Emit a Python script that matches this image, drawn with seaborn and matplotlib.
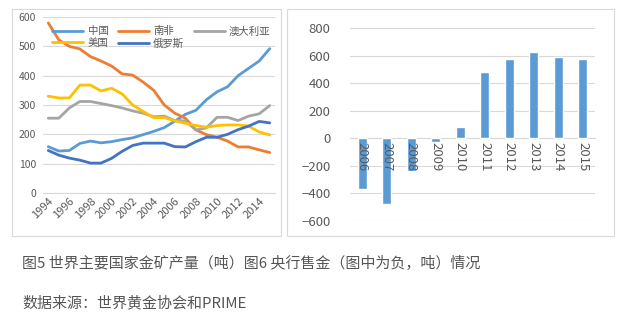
import matplotlib
matplotlib.use("Agg")
import matplotlib.pyplot as plt
from matplotlib.patches import Rectangle
import numpy as np
import pandas as pd
import seaborn as sns

sns.set_style("white")
plt.rcParams['font.family'] = ['Noto Sans CJK SC', 'DejaVu Sans']

years = list(range(1994, 2016))
china = [158, 143, 145, 169, 177, 171, 175, 182, 188, 199, 210, 223, 245, 268, 282, 318, 345, 362, 400, 425, 450, 492]
south_africa = [580, 522, 500, 491, 465, 450, 433, 406, 402, 378, 350, 300, 272, 255, 215, 199, 190, 177, 157, 157, 147, 138]
australia = [255, 255, 290, 312, 312, 305, 298, 290, 280, 272, 260, 262, 247, 246, 215, 222, 258, 258, 247, 262, 270, 298]
usa = [330, 324, 324, 368, 368, 348, 357, 338, 300, 278, 257, 257, 246, 238, 230, 224, 230, 232, 232, 228, 208, 198]
russia = [145, 129, 119, 112, 102, 102, 118, 142, 162, 170, 170, 170, 158, 157, 175, 190, 190, 200, 216, 228, 244, 239]
series_names = ['中国', '南非', '澳大利亚', '美国', '俄罗斯']
series_values = [china, south_africa, australia, usa, russia]
colors = ['#5B9BD5', '#ED7D31', '#A5A5A5', '#FFC000', '#4472C4']

bar_years = ['2006', '2007', '2008', '2009', '2010', '2011', '2012', '2013', '2014', '2015']
bar_values = [-365, -478, -235, -29, 80, 484, 572, 625, 589, 572]

caption1 = '图5 世界主要国家金矿产量（吨）图6 央行售金（图中为负，吨）情况'
caption2 = '数据来源：世界黄金协会和PRIME'

rows = []
for name, vals in zip(series_names, series_values):
    for y, v in zip(years, vals):
        rows.append({'year': y, 'value': v, 'country': name})
df = pd.DataFrame(rows)
dfb = pd.DataFrame({'year': bar_years, 'value': bar_values})

W, H = 620, 333
fig = plt.figure(figsize=(W / 100, H / 100), dpi=100)
fig.patch.set_facecolor('white')

def fx(px):
    return px / W

def fy(py):
    return 1 - py / H

# panel borders
fig.patches.append(Rectangle((fx(12), fy(236)), fx(281) - fx(12), fy(9) - fy(236),
                             transform=fig.transFigure, fill=False, edgecolor='#d9d9d9', lw=0.8))
fig.patches.append(Rectangle((fx(287), fy(236)), fx(614) - fx(287), fy(9) - fy(236),
                             transform=fig.transFigure, fill=False, edgecolor='#d9d9d9', lw=0.8))

tick_color = '#595959'
grid_color = '#d9d9d9'

# Left: line chart
ax1 = fig.add_axes([fx(43), fy(193), fx(275) - fx(43), fy(17) - fy(193)])
sns.lineplot(data=df, x='year', y='value', hue='country', hue_order=series_names,
             palette=colors, linewidth=2.0, ax=ax1, legend=True)
ax1.set_xlim(1993.5, 2015.5)
ax1.set_ylim(0, 600)
ax1.set_yticks(range(0, 601, 100))
ax1.set_xticks(list(range(1994, 2015, 2)))
ax1.set_xticklabels([str(y) for y in range(1994, 2015, 2)], rotation=45, ha='right',
                    rotation_mode='anchor', fontsize=8, color=tick_color, style='italic')
ax1.tick_params(axis='y', labelsize=7.5, labelcolor=tick_color, length=0, pad=5)
ax1.tick_params(axis='x', length=0, pad=2)
for t in ax1.get_yticklabels():
    t.set_style('italic')
ax1.set_xlabel('')
ax1.set_ylabel('')
ax1.grid(axis='y', color=grid_color, lw=0.8)
ax1.set_axisbelow(True)
for s in ['top', 'right', 'left']:
    ax1.spines[s].set_visible(False)
ax1.spines['bottom'].set_color(grid_color)
handles, labels = ax1.get_legend_handles_labels()
hmap = dict(zip(labels, handles))
order = ['中国', '美国', '南非', '俄罗斯', '澳大利亚']
ax1.legend([hmap[k] for k in order], order, ncol=3, frameon=False,
           loc='upper center', bbox_to_anchor=(0.51, 1.0), fontsize=7.5,
           handlelength=3.0, columnspacing=0.9, labelspacing=0.15, handletextpad=0.4,
           labelcolor=tick_color)

# Right: bar chart
ax2 = fig.add_axes([fx(350), fy(221), fx(595) - fx(350), fy(28) - fy(221)])
for yv in range(-600, 801, 200):
    ax2.axhline(yv, color=grid_color, lw=0.8, zorder=0)
sns.barplot(data=dfb, x='year', y='value', color='#5B9BD5', width=0.38,
            saturation=1, ax=ax2, zorder=1)
ax2.set_ylim(-600, 800)
ax2.set_yticks(range(-600, 801, 200))
ax2.tick_params(axis='y', labelsize=9.5, labelcolor=tick_color, length=0, pad=14)
for t in ax2.get_yticklabels():
    t.set_style('italic')
ax2.spines['bottom'].set_position(('data', 0))
ax2.spines['bottom'].set_color(grid_color)
ax2.spines['bottom'].set_zorder(0)
for s in ['top', 'right', 'left']:
    ax2.spines[s].set_visible(False)
ax2.set_xticks(range(len(bar_years)))
ax2.set_xticklabels(bar_years, rotation=-90, fontsize=9.5, color=tick_color, style='italic',
                    va='top', ha='center')
ax2.tick_params(axis='x', length=0, pad=3)
ax2.set_xlabel('')
ax2.set_ylabel('')
ax2.grid(False)
ax2.set_axisbelow(False)

# captions
fig.text(fx(22), fy(263), caption1, fontsize=10.8, color='#555555', va='center', ha='left')
fig.text(fx(22), fy(303), caption2, fontsize=10.8, color='#555555', va='center', ha='left')

fig.savefig('out.png', dpi=100, facecolor='white')
